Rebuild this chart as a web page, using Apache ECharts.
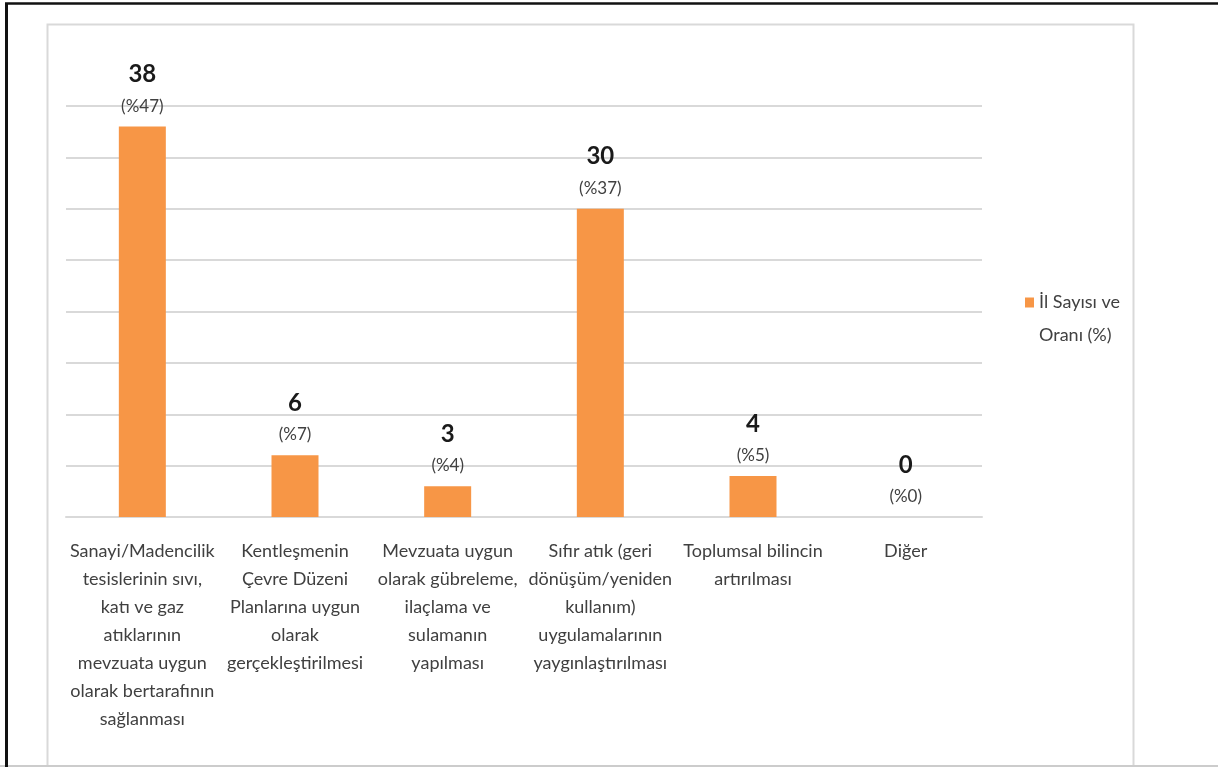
<!DOCTYPE html>
<html>
<head>
<meta charset="utf-8">
<script src="https://cdn.jsdelivr.net/npm/echarts@6/dist/echarts.min.js"></script>
<style>
  html, body { margin: 0; padding: 0; background: #ffffff; }
  #chart { width: 1218px; height: 767px; }
</style>
</head>
<body>
<div id="chart"></div>
<script>
// Categories (line breaks as laid out under each bar)
const categories = [
  'Sanayi/Madencilik\ntesislerinin sıvı,\nkatı ve gaz\natıklarının\nmevzuata uygun\nolarak bertarafının\nsağlanması',
  'Kentleşmenin\nÇevre Düzeni\nPlanlarına uygun\nolarak\ngerçekleştirilmesi',
  'Mevzuata uygun\nolarak gübreleme,\nilaçlama ve\nsulamanın\nyapılması',
  'Sıfır atık (geri\ndönüşüm/yeniden\nkullanım)\nuygulamalarının\nyaygınlaştırılması',
  'Toplumsal bilincin\nartırılması',
  'Diğer'
];
// Number of provinces per measure
const counts = [38, 6, 3, 30, 4, 0];
// Share of provinces (%)
const shares = [47, 7, 4, 37, 5, 0];
const seriesName = 'İl Sayısı ve Oranı (%)';

const FONT = "Lato, 'Open Sans', sans-serif";
const GREY_LINE = '#d9d9d9';

const chart = echarts.init(document.getElementById('chart'), null, { renderer: 'canvas' });

chart.setOption({
  backgroundColor: '#ffffff',
  animation: false,
  textStyle: { fontFamily: FONT },
  grid: { left: 66, right: 236, top: 106, bottom: 250, containLabel: false },
  legend: {
    data: [seriesName],
    left: 1025,
    top: 253,
    padding: 0,
    icon: 'rect',
    itemWidth: 9,
    itemHeight: 10,
    // leading empty line keeps the swatch level with the first text line
    formatter: () => '\nİl Sayısı ve\nOranı (%)',
    textStyle: {
      fontFamily: FONT,
      fontSize: 18,
      color: '#404040',
      lineHeight: 33
    }
  },
  xAxis: {
    type: 'category',
    data: categories,
    axisTick: { show: false },
    axisLine: { lineStyle: { color: GREY_LINE, width: 2 } },
    axisLabel: {
      interval: 0,
      margin: 20,
      fontFamily: FONT,
      fontSize: 18,
      lineHeight: 28,
      color: '#404040',
      align: 'center'
    }
  },
  yAxis: {
    type: 'value',
    min: 0,
    max: 40,
    interval: 5,
    axisLabel: { show: false },
    axisLine: { show: false },
    axisTick: { show: false },
    splitLine: { lineStyle: { color: GREY_LINE, width: 2 } }
  },
  series: [{
    name: seriesName,
    type: 'bar',
    data: counts,
    barWidth: 47,
    itemStyle: { color: '#F79646' },
    label: {
      show: true,
      position: 'top',
      distance: 5,
      formatter: p => '{v|' + p.value + '}\n{p|(%' + shares[p.dataIndex] + ')}',
      rich: {
        v: { fontFamily: FONT, fontSize: 24, fontWeight: 'bold', color: '#1a1a1a', lineHeight: 32, align: 'center' },
        p: { fontFamily: FONT, fontSize: 17, color: '#404040', lineHeight: 31, align: 'center' }
      }
    }
  }],
  graphic: [
    // chart-area frame
    { type: 'rect', shape: { x: 47.5, y: 24.5, width: 1086, height: 760 },
      style: { fill: null, stroke: GREY_LINE, lineWidth: 2 }, silent: true, z: -1 },
    // bottom edge line
    { type: 'line', shape: { x1: 0, y1: 766, x2: 1218, y2: 766 },
      style: { stroke: '#cccccc', lineWidth: 2 }, silent: true },
    // outer dark border (top and left)
    { type: 'line', shape: { x1: 5, y1: 3.5, x2: 1218, y2: 3.5 },
      style: { stroke: '#111111', lineWidth: 2.5 }, silent: true },
    { type: 'line', shape: { x1: 6.5, y1: 3, x2: 6.5, y2: 767 },
      style: { stroke: '#111111', lineWidth: 3 }, silent: true }
  ]
});
</script>
</body>
</html>
